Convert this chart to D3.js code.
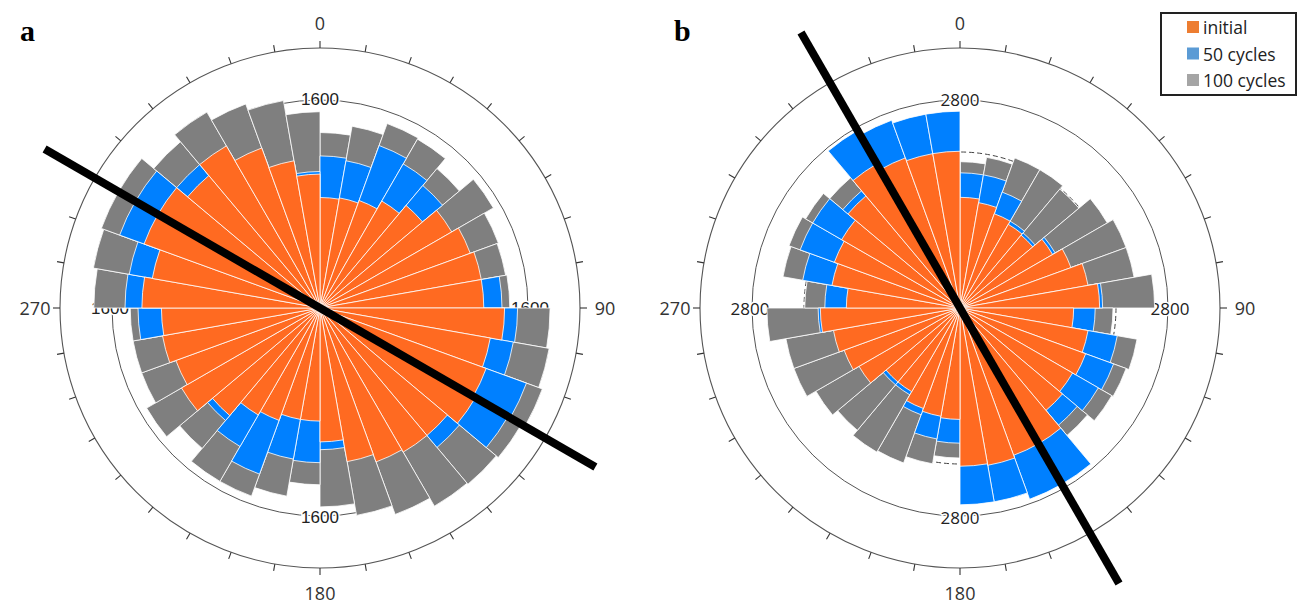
<!DOCTYPE html>
<html>
<head>
<meta charset="utf-8">
<script src="https://cdn.jsdelivr.net/npm/d3@7"></script>
<style>
  body { margin: 0; background: #fff; }
  svg { display: block; }
</style>
</head>
<body>
<div id="chart"></div>
<script>
// 36 direction bins of 10 degrees, clockwise from north
const bins = d3.range(36).map((i) => i * 10);
const series = ['initial', '50 cycles', '100 cycles'];

// panel a
const aInitial = [850, 860, 880, 950, 1030, 1170, 1230, 1260, 1260, 1420, 1330, 1360,
  1380, 1280, 1280, 1260, 1200, 1030, 870, 870, 920, 950, 1080, 1230,
  1180, 1230, 1220, 1370, 1310, 1440, 1440, 1330, 1440, 1310, 1150, 1030];
const aCycles50 = [1170, 1150, 1330, 1280, 1230, 1130, 1180, 1220, 1400, 1520, 1510, 1690,
  1670, 1400, 1230, 1200, 1150, 1090, 1190, 1180, 1360, 1230, 1130, 1180,
  1150, 1200, 1400, 1500, 1490, 1640, 1640, 1440, 1380, 1260, 1130, 1050];
const aCycles100 = [1350, 1420, 1510, 1500, 1400, 1540, 1460, 1450, 1460, 1770, 1790, 1820,
  1790, 1770, 1760, 1690, 1620, 1530, 1360, 1470, 1540, 1540, 1410, 1540,
  1460, 1460, 1460, 1740, 1770, 1790, 1790, 1670, 1740, 1670, 1620, 1510];

// panel b
const bInitial = [1490, 1440, 1350, 1300, 1280, 1440, 1590, 1750, 1880, 1530, 1750, 1800,
  1750, 1800, 2110, 2110, 2150, 2130, 1500, 1480, 1440, 1300, 1300, 1570,
  1660, 1730, 1880, 1530, 1750, 1800, 1840, 1970, 2240, 2150, 2110, 2110];
const bCycles50 = [1820, 1820, 1660, 1350, 1320, 1480, 1570, 1730, 1920, 1820, 2150, 2200,
  2150, 2060, 2740, 2740, 2650, 2650, 1820, 1790, 1530, 1350, 1350, 1550,
  1640, 1700, 1910, 1820, 2150, 2290, 2290, 2060, 2760, 2690, 2650, 2650];
const bCycles100 = [1970, 2060, 2150, 2150, 2090, 2290, 2380, 2380, 2620, 2060, 2420, 2380,
  2360, 2240, 2400, 2350, 2300, 2300, 2020, 2130, 2220, 2240, 2150, 2240,
  2380, 2380, 2600, 2090, 2420, 2450, 2400, 2290, 2200, 2100, 2000, 2000];

const angleTicks = [0, 90, 180, 270];

const width = 1298;
const height = 606;

const barColors = { 'initial': '#ff6a21', '50 cycles': '#0080ff', '100 cycles': '#7f7f7f' };
const legendColors = { 'initial': '#ed7d31', '50 cycles': '#5b9bd5', '100 cycles': '#a5a5a5' };

const panels = [
  {
    letter: 'a', letterX: 20, cx: 320, cy: 308, max: 2000, ring: 1600, dashRing: null, trend: 120,
    data: { 'initial': aInitial, '50 cycles': aCycles50, '100 cycles': aCycles100 },
  },
  {
    letter: 'b', letterX: 674, cx: 960, cy: 308, max: 3500, ring: 2800, dashRing: 2100, trend: 150,
    data: { 'initial': bInitial, '50 cycles': bCycles50, '100 cycles': bCycles100 },
  },
];

const svg = d3
  .select('#chart')
  .append('svg')
  .attr('width', width)
  .attr('height', height)
  .attr('viewBox', [0, 0, width, height]);

svg.append('rect').attr('width', width).attr('height', height).attr('fill', '#fff');

const outerR = 260;
const toRad = (deg) => (deg * Math.PI) / 180;

panels.forEach((p) => {
  const g = svg.append('g').attr('transform', `translate(${p.cx},${p.cy})`);
  const r = d3.scaleLinear().domain([0, p.max]).range([0, outerR]);

  // outer frame circle with 10 degree ticks
  g.append('circle')
    .attr('r', r(p.max))
    .attr('fill', 'none')
    .attr('stroke', '#555')
    .attr('stroke-width', 1.1);

  g.selectAll('line.tick')
    .data(bins)
    .enter()
    .append('line')
    .attr('class', 'tick')
    .attr('x1', (d) => r(p.max) * Math.sin(toRad(d)))
    .attr('y1', (d) => -r(p.max) * Math.cos(toRad(d)))
    .attr('x2', (d) => (r(p.max) + 7) * Math.sin(toRad(d)))
    .attr('y2', (d) => -(r(p.max) + 7) * Math.cos(toRad(d)))
    .attr('stroke', '#333')
    .attr('stroke-width', 1.1);

  g.selectAll('text.angle')
    .data(angleTicks)
    .enter()
    .append('text')
    .attr('class', 'angle')
    .attr('x', (d) => (r(p.max) + 25) * Math.sin(toRad(d)))
    .attr('y', (d) => -(r(p.max) + 25) * Math.cos(toRad(d)))
    .attr('text-anchor', 'middle')
    .attr('dominant-baseline', 'central')
    .style('font-family', '"Open Sans", "Noto Sans", sans-serif')
    .style('font-size', '18px')
    .style('fill', '#333')
    .text((d) => d);

  // dashed reference circle (panel b only)
  if (p.dashRing) {
    g.append('circle')
      .attr('r', r(p.dashRing))
      .attr('fill', 'none')
      .attr('stroke', '#444')
      .attr('stroke-width', 1)
      .attr('stroke-dasharray', '5,3');
  }

  // value circle + its labels
  g.append('circle')
    .attr('r', r(p.ring))
    .attr('fill', 'none')
    .attr('stroke', '#555')
    .attr('stroke-width', 1);

  g.selectAll('text.ring')
    .data(angleTicks)
    .enter()
    .append('text')
    .attr('class', 'ring')
    .attr('x', (d) => (r(p.ring) + 2) * Math.sin(toRad(d)))
    .attr('y', (d) => -(r(p.ring) + 1) * Math.cos(toRad(d)))
    .attr('text-anchor', 'middle')
    .attr('dominant-baseline', 'central')
    .style('font-family', p.letter === 'a' ? '"Liberation Sans", Arial, sans-serif' : '"Open Sans", "Noto Sans", sans-serif')
    .style('font-size', '17px')
    .style('fill', '#222')
    .style('stroke', '#fff')
    .style('stroke-width', 3)
    .style('paint-order', 'stroke')
    .text(p.ring);

  // rose bars: 100 cycles behind, then 50 cycles, initial on top
  const arc = d3.arc().innerRadius(0);
  series
    .slice()
    .reverse()
    .forEach((s) => {
      g.append('g')
        .selectAll('path')
        .data(p.data[s])
        .enter()
        .append('path')
        .attr('d', (v, i) =>
          arc({ outerRadius: r(v), startAngle: toRad(bins[i]), endAngle: toRad(bins[i] + 10) })
        )
        .attr('fill', barColors[s])
        .attr('stroke', '#fff')
        .attr('stroke-width', 0.8);
    });

  // preferred orientation line through the centre
  const L = 318;
  g.append('line')
    .attr('x1', -L * Math.sin(toRad(p.trend)))
    .attr('y1', L * Math.cos(toRad(p.trend)))
    .attr('x2', L * Math.sin(toRad(p.trend)))
    .attr('y2', -L * Math.cos(toRad(p.trend)))
    .attr('stroke', '#000')
    .attr('stroke-width', 8);

  // panel letter
  svg.append('text')
    .attr('x', p.letterX)
    .attr('y', 41)
    .style('font-family', '"Liberation Serif", "Times New Roman", serif')
    .style('font-weight', 'bold')
    .style('font-size', '30px')
    .style('fill', '#000')
    .text(p.letter);
});

// legend
const legend = svg.append('g').attr('transform', 'translate(1161,13)');
legend.append('rect')
  .attr('width', 135)
  .attr('height', 82)
  .attr('fill', '#fff')
  .attr('stroke', '#222')
  .attr('stroke-width', 2);

const rows = legend
  .selectAll('g.row')
  .data(series)
  .enter()
  .append('g')
  .attr('class', 'row')
  .attr('transform', (d, i) => `translate(26,${14 + i * 26.5})`);

rows.append('rect')
  .attr('x', 0)
  .attr('y', -6)
  .attr('width', 12)
  .attr('height', 12)
  .attr('fill', (d) => legendColors[d]);

rows.append('text')
  .attr('x', 16)
  .attr('y', 0)
  .attr('dominant-baseline', 'central')
  .style('font-family', '"Open Sans", "Noto Sans", sans-serif')
  .style('font-size', '17.5px')
  .style('fill', '#222')
  .text((d) => d);
</script>
</body>
</html>
